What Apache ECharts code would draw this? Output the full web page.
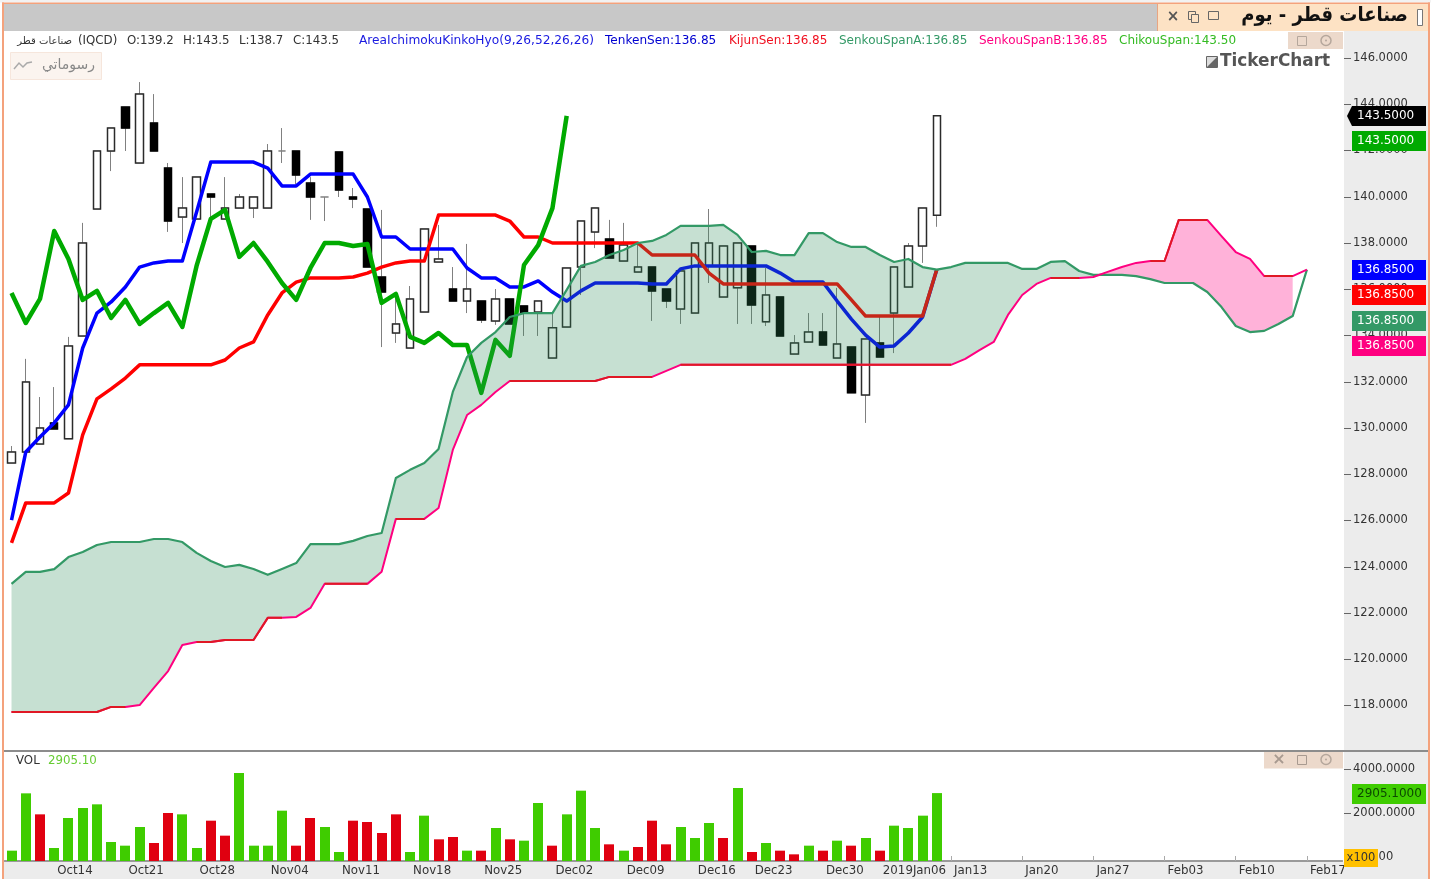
<!DOCTYPE html>
<html>
<head>
<meta charset="utf-8" />
<style>
    html, body { margin: 0; padding: 0; background: #fff; }
    #main { width: 1431px; height: 879px; }
</style>
<script src="https://cdn.jsdelivr.net/npm/echarts@6/dist/echarts.min.js"></script>
</head>
<body>
<div id="main"></div>
<script>
var categories = ['Oct09','Oct10','Oct11',
    'Oct14','Oct15','Oct16','Oct17','Oct18','Oct21','Oct22','Oct23','Oct24','Oct25',
    'Oct28','Oct29','Oct30','Oct31','Nov01','Nov04','Nov05','Nov06','Nov07','Nov08',
    'Nov11','Nov12','Nov13','Nov14','Nov15','Nov18','Nov19','Nov20','Nov21','Nov22',
    'Nov25','Nov26','Nov27','Nov28','Nov29','Dec02','Dec03','Dec04','Dec05','Dec06',
    'Dec09','Dec10','Dec11','Dec12','Dec13','Dec16','Dec17','Dec19','Dec20',
    'Dec23','Dec24','Dec25','Dec26','Dec27','Dec30','Dec31','Jan02','Jan03',
    '2019Jan06','Jan07','Jan08','Jan09','Jan10','Jan13','Jan14','Jan15','Jan16','Jan17',
    'Jan20','Jan21','Jan22','Jan23','Jan24','Jan27','Jan28','Jan29','Jan30','Jan31',
    'Feb03','Feb04','Feb05','Feb06','Feb07','Feb10','Feb11','Feb12','Feb13','Feb14',
    'Feb17','Feb18','Feb19'];
var weekLabels = ['Oct14','Oct21','Oct28','Nov04','Nov11','Nov18','Nov25','Dec02','Dec09','Dec16',
    'Dec23','Dec30','2019Jan06','Jan13','Jan20','Jan27','Feb03','Feb10','Feb17'];
var priceTicks = [118,120,122,124,126,128,130,132,134,136,138,140,142,144,146];
var volumeTicks = [0,2000,4000];

var opens = [128.49,128.96,129.31,130.22,129.53,133.98,139.47,141.98,143.88,141.46,143.19,141.24,139.12,139.04,140.12,139.04,139.51,139.51,139.51,141.98,
    141.98,140.59,139.99,141.94,139.99,139.47,136.53,134.11,133.46,135.02,137.18,136.01,135.49,135.49,134.63,135.58,135.28,135.02,133.03,134.37,
    136.96,138.48,138.17,137.22,136.75,136.96,136.01,135.15,134.97,137.01,135.67,136.06,137.87,134.59,135.67,133.20,133.72,134.15,133.03,133.50,
    131.43,133.68,134.97,136.10,137.87,139.2];
var closes = [128.96,131.99,130.00,129.96,133.55,138.00,141.98,142.97,142.97,144.44,141.98,138.95,139.51,140.85,139.99,139.51,139.99,139.99,141.98,141.98,
    140.94,139.99,139.99,140.29,139.90,136.96,135.88,134.50,135.58,138.61,137.31,135.49,136.01,134.67,135.58,134.50,134.97,135.49,134.33,136.92,
    138.95,139.51,137.35,137.91,136.96,135.93,135.49,136.79,138.00,138.00,137.87,138.00,135.32,135.75,133.98,133.68,134.15,133.59,133.63,131.52,
    133.85,133.07,136.96,137.87,139.51,143.5];
var lows = [128.49,128.96,129.31,129.96,129.53,133.98,139.47,141.11,141.98,141.46,141.98,138.48,138.00,139.04,139.04,139.04,139.51,139.08,139.51,141.46,
    140.55,139.00,138.95,139.99,139.51,136.96,133.50,133.68,133.46,135.02,137.18,135.49,134.97,134.54,134.46,134.50,133.98,133.98,133.03,134.37,
    135.75,137.78,137.35,137.22,136.75,134.63,135.19,134.50,134.97,136.27,135.67,134.50,134.50,134.41,133.98,133.20,133.72,133.59,133.03,131.52,
    130.22,133.07,133.24,136.10,137.14,138.7];
var highs = [129.22,132.99,131.34,131.77,133.94,138.87,141.98,142.97,143.88,144.96,144.44,141.46,140.85,140.85,140.12,140.85,140.12,139.99,142.28,142.97,
    141.98,140.85,139.99,141.94,140.38,139.47,139.43,135.80,136.14,138.61,138.78,136.96,137.96,135.49,136.01,135.58,135.28,135.49,134.97,136.92,
    138.95,139.51,139.00,138.87,138.00,136.96,136.01,136.79,138.00,139.47,137.87,138.00,137.87,136.92,135.67,134.02,134.97,134.97,136.06,133.50,
    133.85,134.80,136.96,138.00,139.51,143.5];

var tenkan = [126.02,128.96,129.61,130.22,131.00,133.46,134.97,135.45,136.10,136.96,137.14,137.22,137.22,139.34,141.50,141.50,141.50,141.50,141.24,140.47,
    140.47,140.98,140.98,140.98,140.98,139.99,138.26,138.26,137.74,137.74,137.74,137.74,136.92,136.49,136.49,136.10,136.10,136.36,135.88,135.49,
    135.93,136.27,136.27,136.27,136.27,136.23,136.23,136.88,137.01,137.01,137.01,137.01,137.01,137.01,136.70,136.31,136.31,136.31,135.49,134.71,
    134.02,133.50,133.55,134.11,134.80,136.85];
var kijun = [125.03,126.76,126.76,126.76,127.19,129.70,131.26,131.69,132.16,132.73,132.73,132.73,132.73,132.73,132.73,132.94,133.46,133.72,134.89,135.84,
    136.31,136.49,136.49,136.49,136.53,136.70,136.96,137.14,137.22,137.22,139.21,139.21,139.21,139.21,139.21,138.95,138.26,138.26,138.00,138.00,
    138.00,138.00,138.00,138.00,138.00,137.48,137.48,137.48,137.48,136.70,136.23,136.23,136.23,136.23,136.23,136.23,136.23,136.23,136.23,135.54,
    134.84,134.84,134.84,134.84,134.84,136.85];
var chikou = [135.84,134.54,135.58,138.52,137.31,135.54,135.93,134.76,135.54,134.50,134.97,135.41,134.37,137.01,139.04,139.43,137.40,138.00,137.18,136.27,
    135.54,136.92,138.00,138.00,137.87,137.96,135.41,135.80,133.94,133.68,134.11,133.59,133.59,131.52,133.81,133.12,137.05,137.91,139.51,143.5];
var spanA = [123.26,123.78,123.78,123.90,124.42,124.64,124.94,125.07,125.07,125.07,125.20,125.20,125.07,124.60,124.25,123.99,124.08,123.90,123.65,123.90,
    124.16,124.98,124.98,124.98,125.12,125.33,125.46,127.84,128.19,128.49,129.09,131.56,133.07,133.68,134.15,134.80,134.97,134.97,134.97,135.97,
    137.01,137.18,137.48,137.70,138.00,138.09,138.35,138.74,138.74,138.74,138.78,138.35,137.61,137.66,137.48,137.48,138.43,138.43,138.04,137.83,
    137.83,137.48,137.18,137.31,136.96,136.85,136.96,137.14,137.14,137.14,137.14,136.88,136.88,137.18,137.22,136.79,136.62,136.62,136.62,136.57,
    136.44,136.27,136.27,136.27,135.88,135.23,134.41,134.15,134.20,134.50,134.84,136.85];
var spanB = [117.72,117.72,117.72,117.72,117.72,117.72,117.72,117.94,117.94,118.02,118.76,119.49,120.62,120.75,120.75,120.83,120.83,120.83,121.79,121.79,
    121.83,122.22,123.26,123.26,123.26,123.26,123.78,126.07,126.07,126.07,126.54,129.05,130.56,131.00,131.56,132.03,132.03,132.03,132.03,132.03,
    132.03,132.03,132.21,132.21,132.21,132.21,132.47,132.73,132.73,132.73,132.73,132.73,132.73,132.73,132.73,132.73,132.73,132.73,132.73,132.73,
    132.73,132.73,132.73,132.73,132.73,132.73,132.73,132.99,133.37,133.72,134.89,135.75,136.23,136.49,136.49,136.49,136.53,136.75,136.96,137.14,
    137.22,137.22,139.00,139.00,139.00,138.30,137.61,137.31,136.57,136.57,136.57,136.85];

var volumes = [288,2894,1939,409,1773,2227,2394,682,515,1364,636,2000,1939,409,1651,970,3818,515,515,2106,
    515,1773,1364,227,1651,1591,1091,1939,227,1879,803,909,288,288,1318,803,742,2454,515,1939,
    3015,1318,576,288,455,1651,576,1364,864,1545,864,3136,227,636,288,121,515,288,742,515,
    864,288,1424,1318,1879,2905.1];
var volumeSides = ['g','g','r','g','g','g','g','g','g','g','r','r','g','g','r','r','g','g','g','g',
    'r','r','g','g','r','r','r','r','g','g','r','r','g','r','g','r','g','g','r','g',
    'g','g','r','g','r','r','r','g','g','g','r','g','r','g','r','r','g','r','g','r',
    'g','r','g','g','g','g'];

var FONT = '"DejaVu Sans"';
var TEXT_COLOR = '#333';
var BAR_GREEN = '#3fcc00', BAR_RED = '#e00010';
var TENKAN = '#0000ff', KIJUN = '#ff0000', SENKOU_A = '#339966', SENKOU_B = '#ff0080', CHIKOU = '#00aa00';
var VOL_MIN = -182;

var wickData = opens.map(function (o, i) { return [o, closes[i], lows[i], highs[i]]; });
// body layer has no wicks, dojis stay grey from the wick layer
var bodyData = opens.map(function (o, i) {
    if (o === closes[i]) return '-';
    return [o, closes[i], Math.min(o, closes[i]), Math.max(o, closes[i])];
});

// cloud is cut one bar before the end, same as the platform paints it
var cloudBase = [], cloudGreen = [], cloudPink = [];
for (var i = 0; i < spanA.length - 1; i++) {
    cloudBase.push(Math.min(spanA[i], spanB[i]));
    cloudGreen.push(Math.max(spanA[i] - spanB[i], 0));
    cloudPink.push(Math.max(spanB[i] - spanA[i], 0));
}
// flat runs of span B read red on the source
var spanBFlat = spanB.map(function (v, i) {
    return (v === spanB[i - 1] || v === spanB[i + 1]) ? v : null;
});

function isWeekStart(index, value) { return weekLabels.indexOf(value) >= 0; }

function txt(x, y, text, color, size, extra) {
    var st = { x: x, y: y, text: text, fill: color, font: (size || 11.8) + 'px ' + FONT, textVerticalAlign: 'middle' };
    for (var k in (extra || {})) st[k] = extra[k];
    return { type: 'text', z: 10, style: st };
}
function box(x, y, w, h, fill, z, stroke) {
    return { type: 'rect', z: z === undefined ? 1 : z, shape: { x: x, y: y, width: w, height: h },
        style: { fill: fill, stroke: stroke || null, lineWidth: stroke ? 1 : 0 } };
}
function tag(y, fill, text, textColor) {
    return [
        box(1352, y, 74, 20, fill, 5),
        txt(1357, y + 10, text, textColor || '#fff', 12)
    ];
}
function circleIcon(x, y) {
    return [
        { type: 'circle', z: 10, shape: { cx: x, cy: y, r: 5 }, style: { fill: 'none', stroke: '#b5a79c', lineWidth: 1.5 } },
        { type: 'circle', z: 10, shape: { cx: x, cy: y, r: 1 }, style: { fill: '#b5a79c' } }
    ];
}

var chrome = [
    box(0, 0, 1431, 2.5, '#f2f2f2', 1),
    box(4, 4, 1154, 27, '#c8c8c8', 1),
    box(1158, 4, 270, 27, '#fde2c4', 1),
    box(1157, 4, 1, 27, '#e8a582', 1),
    box(2, 2.5, 1428, 1.5, '#f4a27c', 6),
    box(2, 2.5, 2, 876.5, '#f4a27c', 6),
    box(1428, 2.5, 2, 876.5, '#f4a27c', 6),
    box(4, 862, 1340, 17, '#ececec', -1),
    box(1344, 31, 84, 848, '#ececec', 1),
    box(4, 750, 1424, 2, '#8c8c8c', 6),

    // tab buttons
    txt(1173, 17, '×', '#555', 15, { textAlign: 'center', font: 'bold 15px ' + FONT }),
    box(1188.5, 11.5, 7, 8, 'none', 10, '#666'), box(1191.5, 14.5, 7, 8, '#fde2c4', 10, '#666'),
    box(1208.5, 11.5, 10, 8, 'none', 10, '#666'),
    { type: 'text', z: 10, x: 1408, y: 16, scaleX: 0.9, style: { x: 0, y: 0, text: 'صناعات قطر - يوم', fill: '#111',
        font: 'bold 20px ' + FONT, textAlign: 'right', textVerticalAlign: 'middle' } },
    box(1417.5, 9.5, 5, 16, '#fff', 10, '#777'),

    // top left info
    txt(72, 41, 'صناعات قطر', TEXT_COLOR, 10, { textAlign: 'right' }),
    txt(78, 41, '(IQCD)', TEXT_COLOR),
    txt(127, 41, 'O:139.2', TEXT_COLOR),
    txt(183, 41, 'H:143.5', TEXT_COLOR),
    txt(239, 41, 'L:138.7', TEXT_COLOR),
    txt(293, 41, 'C:143.5', TEXT_COLOR),
    txt(359, 41, 'AreaIchimokuKinkoHyo(9,26,52,26,26)', '#1a1ae0', 12.2),
    txt(605, 41, 'TenkenSen:136.85', '#0000d0', 12.1),
    txt(729, 41, 'KijunSen:136.85', '#f01020', 12),
    txt(839, 41, 'SenkouSpanA:136.85', SENKOU_A, 12),
    txt(979, 41, 'SenkouSpanB:136.85', SENKOU_B, 12),
    txt(1119, 41, 'ChikouSpan:143.50', '#33bb22', 12),

    // drawings button
    box(10.5, 52.5, 91, 27, '#fbf4ef', 1, '#f6e6dc'),
    { type: 'polyline', z: 10, shape: { points: [[14, 69], [19, 63], [23, 67], [27, 63], [32, 62]] },
        style: { fill: 'none', stroke: '#aaa', lineWidth: 1.5 } },
    txt(95, 65, 'رسوماتي', '#888', 14, { textAlign: 'right' }),

    // watermark
    box(1206.5, 56.5, 11, 11, '#ddd', 10, '#666'),
    { type: 'polygon', z: 10, shape: { points: [[1207, 67], [1217, 57], [1217, 67]] }, style: { fill: '#666' } },
    txt(1220, 62, 'TickerChart', '#555', 16.9, { font: 'bold 16.9px ' + FONT }),

    // pane buttons
    box(1288, 32, 55, 17, '#ecd9cb', 2),
    box(1297.5, 36.5, 9, 9, 'none', 10, '#b5a79c'),
    box(1264, 751.5, 79, 17, '#ecd9cb', 2),
    txt(1279, 759.5, '×', '#a89a90', 16, { textAlign: 'center', font: 'bold 16px ' + FONT }),
    box(1297.5, 755.5, 9, 9, 'none', 10, '#a89a90'),

    txt(16, 761, 'VOL', TEXT_COLOR),
    txt(48, 761, '2905.10', '#66cc33'),

    // right side value tags
    { type: 'polygon', z: 5, shape: { points: [[1347, 116], [1352, 106], [1426, 106], [1426, 126], [1352, 126]] }, style: { fill: '#000' } },
    txt(1357, 116, '143.5000', '#fff', 12),
    box(1344, 849, 34, 18, '#ffc000', 5),
    txt(1361, 858, 'x100', TEXT_COLOR, 11.5, { textAlign: 'center' })
].concat(
    circleIcon(1326, 40.5),
    circleIcon(1326, 759.5),
    tag(131, '#00aa00', '143.5000'),
    tag(260, TENKAN, '136.8500'),
    tag(285, KIJUN, '136.8500'),
    tag(311, SENKOU_A, '136.8500'),
    tag(336, SENKOU_B, '136.8500'),
    tag(784, BAR_GREEN, '2905.1000', '#0c4a00')
);

function lineSeries(name, data, color, width, z) {
    return { name: name, type: 'line', data: data, symbol: 'none', silent: true,
        lineStyle: { color: color, width: width, join: 'round' }, z: z, connectNulls: false };
}
function cloudSeries(name, data, fill) {
    return { name: name, type: 'line', data: data, stack: 'cloud', symbol: 'none', silent: true,
        lineStyle: { width: 0 }, areaStyle: fill ? { color: fill, opacity: 1 } : undefined, z: 6 };
}

var myChart = echarts.init(document.getElementById('main'));
var option = {
    animation: false,
    backgroundColor: '#fff',
    textStyle: { fontFamily: FONT },
    grid: [
        { left: 4.4, top: 31, width: 1338.1, height: 720.75 },
        { left: 4.4, top: 752, width: 1338.1, height: 109 }
    ],
    xAxis: [
        { type: 'category', gridIndex: 0, data: categories, show: false, boundaryGap: true },
        { type: 'category', gridIndex: 1, data: categories, boundaryGap: true, z: 0,
            axisLine: { onZero: false, lineStyle: { color: '#7a7a7a', width: 1.5 } },
            axisTick: { show: true, inside: true, length: 5, alignWithLabel: true, interval: isWeekStart, lineStyle: { color: '#aaa' } },
            axisLabel: { interval: isWeekStart, align: 'left', margin: 4, padding: [0, 0, 0, 3], color: TEXT_COLOR, fontSize: 11.8, fontFamily: FONT, hideOverlap: false } }
    ],
    yAxis: [
        { type: 'value', gridIndex: 0, position: 'right', min: 116, max: 147.168, offset: 1.5, z: 3,
            splitLine: { show: false }, axisLine: { show: false },
            axisTick: { show: true, length: 7, customValues: priceTicks, lineStyle: { color: '#666' } },
            axisLabel: { customValues: priceTicks, margin: 9, padding: [4, 0, 0, 0], color: TEXT_COLOR, fontSize: 11.5, fontFamily: FONT,
                formatter: function (v) { return v.toFixed(4); } } },
        { type: 'value', gridIndex: 1, position: 'right', min: VOL_MIN, max: 4773, offset: 1.5, z: 3,
            splitLine: { show: false }, axisLine: { show: false },
            axisTick: { show: true, length: 7, customValues: volumeTicks, lineStyle: { color: '#666' } },
            axisLabel: { customValues: volumeTicks, margin: 9, padding: [4, 0, 0, 0], color: TEXT_COLOR, fontSize: 11.5, fontFamily: FONT,
                formatter: function (v) { return v.toFixed(4); } } }
    ],
    graphic: { elements: chrome },
    series: [
        { name: 'wicks', type: 'candlestick', data: wickData, barWidth: 8, silent: true, z: 2,
            itemStyle: { color: 'transparent', color0: 'transparent', borderColor: '#808080', borderColor0: '#808080', borderWidth: 1 } },
        { name: 'bodies', type: 'candlestick', data: bodyData, barWidth: 8, silent: true, z: 3,
            itemStyle: { color: '#fff', color0: '#000', borderColor: '#2b2b2b', borderColor0: '#000', borderWidth: 1.5 } },
        lineSeries('TenkenSen', tenkan, TENKAN, 3.5, 4),
        lineSeries('KijunSen', kijun, KIJUN, 3.5, 4),
        lineSeries('ChikouSpan', chikou, CHIKOU, 4.5, 5),
        cloudSeries('cloudBase', cloudBase, null),
        cloudSeries('cloudGreen', cloudGreen, 'rgba(46,139,87,0.27)'),
        cloudSeries('cloudPink', cloudPink, 'rgba(255,0,128,0.3)'),
        lineSeries('SenkouSpanA', spanA, SENKOU_A, 2.2, 7),
        lineSeries('SenkouSpanB', spanB, SENKOU_B, 2, 7),
        lineSeries('SenkouSpanBFlat', spanBFlat, '#e01825', 2, 7),
        { name: 'VOL', type: 'custom', xAxisIndex: 1, yAxisIndex: 1, silent: true, z: 2, clip: true,
            data: volumes.map(function (v, i) { return [i, v]; }),
            encode: { x: 0, y: 1 },
            renderItem: function (params, api) {
                var top = api.coord([api.value(0), api.value(1)]);
                var bottom = api.coord([api.value(0), VOL_MIN]);
                return { type: 'rect', shape: { x: Math.round(top[0] - 5), y: top[1], width: 10, height: bottom[1] - top[1] },
                    style: { fill: volumeSides[params.dataIndex] === 'g' ? BAR_GREEN : BAR_RED } };
            } }
    ]
};
myChart.setOption(option);
</script>
</body>
</html>
